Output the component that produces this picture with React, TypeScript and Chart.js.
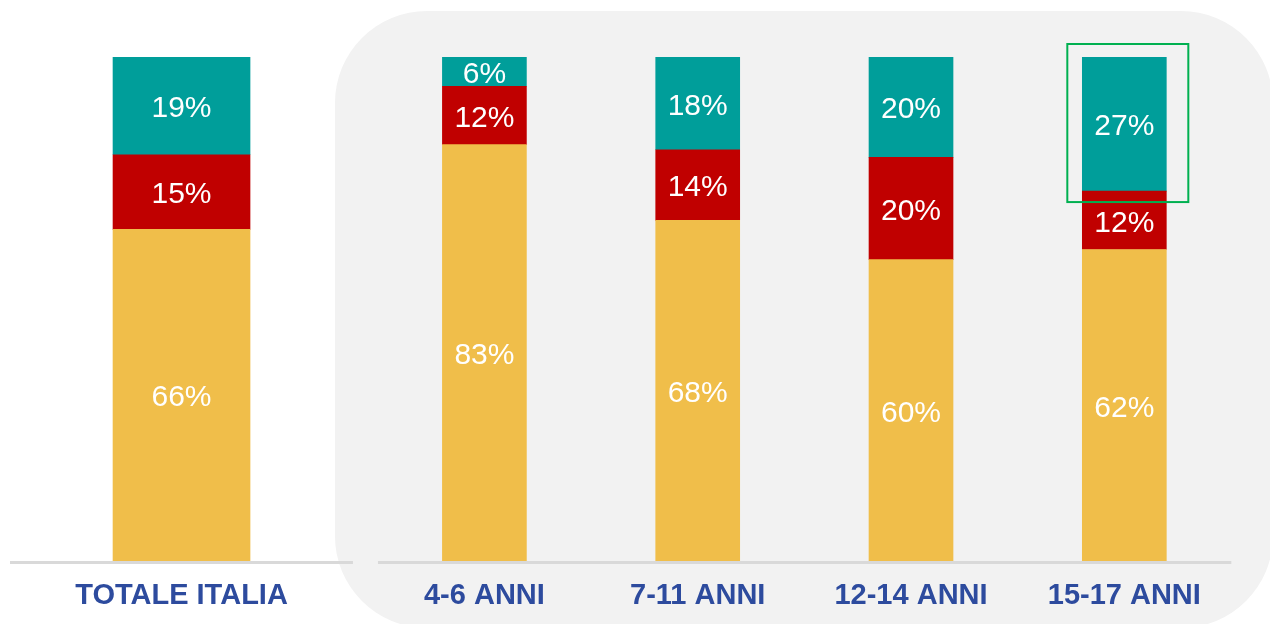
import React, { useEffect, useRef } from 'react';
import { Chart, registerables } from 'chart.js';

Chart.register(...registerables);

// ---- Data ----
const categories = ['TOTALE ITALIA', '4-6 ANNI', '7-11 ANNI', '12-14 ANNI', '15-17 ANNI'];
const categoryPositions = [0, 1.42, 2.42, 3.42, 4.42];
const seriesNames = ['Serie A', 'Serie B', 'Serie C'];
const seriesBottom = [65.8, 82.6, 67.6, 59.8, 61.8];
const seriesMiddle = [14.8, 11.6, 14.0, 20.3, 11.6];
const seriesTop = [19.4, 5.8, 18.4, 19.9, 26.6];
const highlightedCategory = '15-17 ANNI';

const COLORS = ['#F0BE4A', '#C00000', '#009E9A'];
const FONT = '"Liberation Sans", Arial, Helvetica, sans-serif';

export default function App() {
  const ref = useRef<HTMLCanvasElement | null>(null);

  useEffect(() => {
    if (!ref.current) return;
    const series = [seriesBottom, seriesMiddle, seriesTop];
    const datasets: any[] = [];
    series.forEach((vals, s) => {
      datasets.push({
        label: seriesNames[s],
        data: [{ x: categoryPositions[0], y: vals[0] }],
        backgroundColor: COLORS[s],
        barThickness: 137,
        stack: 'a',
      });
      datasets.push({
        label: seriesNames[s],
        data: categoryPositions.slice(1).map((x, i) => ({ x, y: vals[i + 1] })),
        backgroundColor: COLORS[s],
        barThickness: 84,
        stack: 'a',
      });
    });

    const bgPlugin = {
      id: 'panel',
      beforeDraw(chart: any) {
        const { ctx, chartArea } = chart;
        const xs = chart.scales.x;
        const p0 = xs.getPixelForValue(categoryPositions[0]);
        const p1 = xs.getPixelForValue(categoryPositions[1]);
        const mid = (p0 + p1) / 2;
        const left = mid + 2;
        const top = chartArea.top - 46;
        const right = chart.width + 3;
        const bottom = chart.height + 4;
        const r = 92;
        ctx.save();
        ctx.fillStyle = '#F2F2F2';
        ctx.beginPath();
        ctx.moveTo(left + r, top);
        ctx.lineTo(right - r, top);
        ctx.arcTo(right, top, right, top + r, r);
        ctx.lineTo(right, bottom - r);
        ctx.arcTo(right, bottom, right - r, bottom, r);
        ctx.lineTo(left + r, bottom);
        ctx.arcTo(left, bottom, left, bottom - r, r);
        ctx.lineTo(left, top + r);
        ctx.arcTo(left, top, left + r, top, r);
        ctx.closePath();
        ctx.fill();
        ctx.restore();
      },
    };

    const decoPlugin = {
      id: 'deco',
      afterDatasetsDraw(chart: any) {
        const { ctx, chartArea } = chart;
        const xs = chart.scales.x;
        const p0 = xs.getPixelForValue(categoryPositions[0]);
        const p1 = xs.getPixelForValue(categoryPositions[1]);
        const pl = xs.getPixelForValue(categoryPositions[categoryPositions.length - 1]);
        const mid = (p0 + p1) / 2;
        const y = chartArea.bottom + 1.5;
        ctx.save();
        ctx.strokeStyle = '#D9D9D9';
        ctx.lineWidth = 3;
        ctx.beginPath();
        ctx.moveTo(p0 - 171.5, y);
        ctx.lineTo(mid + 20, y);
        ctx.moveTo(mid + 45, y);
        ctx.lineTo(pl + 107, y);
        ctx.stroke();

        // value labels
        ctx.fillStyle = '#FFFFFF';
        ctx.font = `30px ${FONT}`;
        ctx.textAlign = 'center';
        ctx.textBaseline = 'middle';
        chart.data.datasets.forEach((ds: any, di: number) => {
          const meta = chart.getDatasetMeta(di);
          meta.data.forEach((el: any, i: number) => {
            const v = ds.data[i].y;
            const cy = (el.y + el.base) / 2;
            ctx.fillText(`${Math.round(v)}%`, el.x, cy + 3);
          });
        });

        // highlight box around top segment of highlighted category
        const hi = categories.indexOf(highlightedCategory);
        const topAgeMeta = chart.getDatasetMeta(5);
        const el = topAgeMeta.data[hi - 1];
        if (el) {
          ctx.strokeStyle = '#00B050';
          ctx.lineWidth = 2;
          const l = el.x - el.width / 2 - 15;
          const r = el.x + el.width / 2 + 22;
          const t = el.y - 13;
          const b = el.base + 11;
          ctx.strokeRect(l, t, r - l, b - t);
        }
        ctx.restore();
      },
    };

    const chart = new Chart(ref.current, {
      type: 'bar',
      data: { datasets },
      options: {
        animation: false,
        responsive: true,
        maintainAspectRatio: false,
        layout: { padding: { top: 57, bottom: 0, left: 0, right: 0 } },
        plugins: { legend: { display: false }, tooltip: { enabled: false } },
        scales: {
          x: {
            type: 'linear',
            offset: false,
            min: -0.851,
            max: 5.103,
            grid: { display: false },
            border: { display: false },
            afterBuildTicks: (scale: any) => {
              scale.ticks = categoryPositions.map((v) => ({ value: v }));
            },
            afterFit: (scale: any) => {
              scale.height = 63;
            },
            ticks: {
              autoSkip: false,
              maxRotation: 0,
              minRotation: 0,
              padding: 10,
              color: '#2D4B9E',
              font: { size: 29, weight: 'bold', family: FONT },
              callback: (value: any) => {
                const idx = categoryPositions.findIndex((p) => Math.abs(p - Number(value)) < 1e-6);
                return idx >= 0 ? categories[idx] : '';
              },
            },
          },
          y: {
            stacked: true,
            min: 0,
            max: 100,
            display: false,
          },
        },
      },
      plugins: [bgPlugin, decoPlugin],
    } as any);

    return () => chart.destroy();
  }, []);

  return (
    <div style={{ position: 'fixed', left: 0, top: 0, width: 1270, height: 624, background: '#FFFFFF' }}>
      <canvas ref={ref} />
    </div>
  );
}
